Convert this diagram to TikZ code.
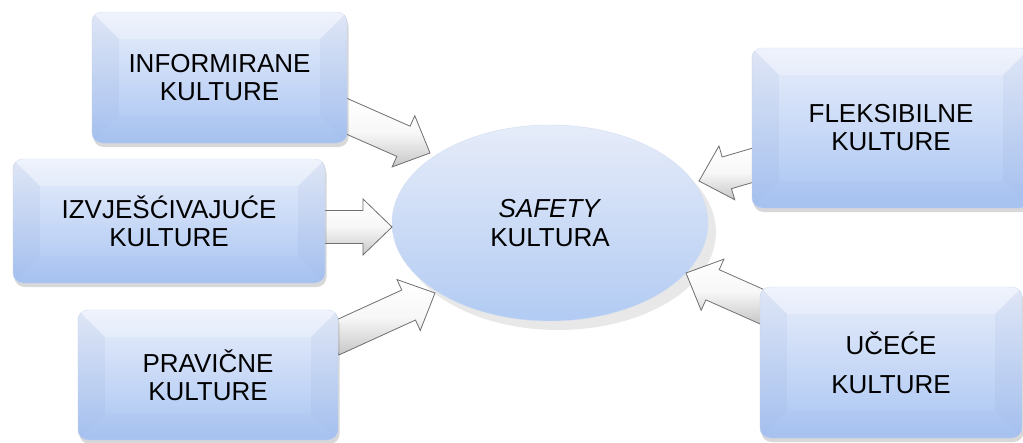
\documentclass[tikz,border=0pt]{standalone}
\usepackage{fontspec}
\setmainfont{Liberation Sans}
\usetikzlibrary{calc,shapes.geometric,shadows}
\definecolor{boxtop}{RGB}{234,239,251}
\definecolor{boxbot}{RGB}{168,196,242}
\definecolor{elltop}{RGB}{230,236,249}
\definecolor{ellbot}{RGB}{178,203,243}
\definecolor{arrline}{RGB}{110,110,115}
\tikzset{
  box/.style={rectangle, rounded corners=10pt, inner sep=0pt, align=center,
    top color=boxtop, bottom color=boxbot, draw={rgb,255:red,205;green,216;blue,238}, line width=0.4pt,
    font=\fontsize{26}{28}\selectfont,
    drop shadow={shadow xshift=1.5pt, shadow yshift=-4pt, opacity=0.25, fill=black!60}},
  hub/.style={ellipse, inner sep=0pt, align=center, minimum width=316pt, minimum height=196pt,
    top color=elltop, bottom color=ellbot, draw={rgb,255:red,210;green,222;blue,242}, line width=0.4pt,
    font=\fontsize{26}{29}\selectfont,
    drop shadow={shadow xshift=8pt, shadow yshift=-9pt, opacity=0.18, fill=black!50}},
  blockarrow/.style={draw=arrline, line width=0.8pt, line join=miter,
    top color=white, bottom color=black!22, middle color=black!3},
  bevelL/.style={fill={rgb,255:red,120;green,145;blue,200}, fill opacity=0.09},
  bevelT/.style={fill=white, fill opacity=0.25},
  bevelB/.style={fill={rgb,255:red,120;green,145;blue,200}, fill opacity=0.04}
}
\newcommand\blockarr[2]{%
  \path ($(#2)!29pt!(#1)$) coordinate (hb);
  \path[blockarrow] ($(#1)!16.5pt!90:(#2)$) -- ($(hb)!16.5pt!90:(#2)$) -- ($(hb)!28pt!90:(#2)$)
    -- (#2) -- ($(hb)!28pt!-90:(#2)$) -- ($(hb)!16.5pt!-90:(#2)$) -- ($(#1)!16.5pt!-90:(#2)$) -- cycle;
}
\newcommand\bevel[1]{%
  \begin{scope}
    \clip[rounded corners=10pt] (#1.north west) rectangle (#1.south east);
    \fill[bevelL] (#1.north west) -- ++(27pt,-27pt) -- ($(#1.south west)+(27pt,27pt)$) -- (#1.south west) -- cycle;
    \fill[bevelL] (#1.north east) -- ++(-27pt,-27pt) -- ($(#1.south east)+(-27pt,27pt)$) -- (#1.south east) -- cycle;
    \fill[bevelT] (#1.north west) -- ++(27pt,-27pt) -- ($(#1.north east)+(-27pt,-27pt)$) -- (#1.north east) -- cycle;
    \fill[bevelB] (#1.south west) -- ++(27pt,27pt) -- ($(#1.south east)+(-27pt,27pt)$) -- (#1.south east) -- cycle;
  \end{scope}}
\begin{document}
\begin{tikzpicture}[x=1pt,y=-1pt]
  \useasboundingbox (0,0) rectangle (1023,442);
  \clip (0,0) rectangle (1023,442);
  \fill[white] (0,0) rectangle (1023,442);

  % arrow end points
  \coordinate (a1s) at (340,113.3);
  \coordinate (a1t) at (430,153);
  \coordinate (a2s) at (320,227);
  \coordinate (a2t) at (392,227);
  \coordinate (a3s) at (332,340);
  \coordinate (a3t) at (435,293);
  \coordinate (a4s) at (757,164);
  \coordinate (a4t) at (699,181);
  \coordinate (a5s) at (767,309);
  \coordinate (a5t) at (686,273);

  % central ellipse
  \node[hub] (safety) at (550,223) {\textit{SAFETY}\\KULTURA};

  % arrows
  \blockarr{a1s}{a1t}
  \blockarr{a2s}{a2t}
  \blockarr{a3s}{a3t}
  \blockarr{a4s}{a4t}
  \blockarr{a5s}{a5t}

  % boxes
  \node[box, minimum width=255pt, minimum height=131pt] (inf) at (219.5,77.5) {INFORMIRANE\\KULTURE};
  \bevel{inf}
  \node[box, minimum width=312pt, minimum height=124pt] (izv) at (169,221) {IZVJEŠĆIVAJUĆE\\KULTURE};
  \bevel{izv}
  \node[box, minimum width=260pt, minimum height=130pt] (pra) at (208,375) {PRAVIČNE\\KULTURE};
  \bevel{pra}
  \node[box, minimum width=278pt, minimum height=160pt] (fle) at (891,128) {FLEKSIBILNE\\KULTURE};
  \bevel{fle}
  \node[box, minimum width=262pt, minimum height=151pt] (uce) at (891,362.5) {UČEĆE\\[11pt]KULTURE};
  \bevel{uce}
\end{tikzpicture}
\end{document}
